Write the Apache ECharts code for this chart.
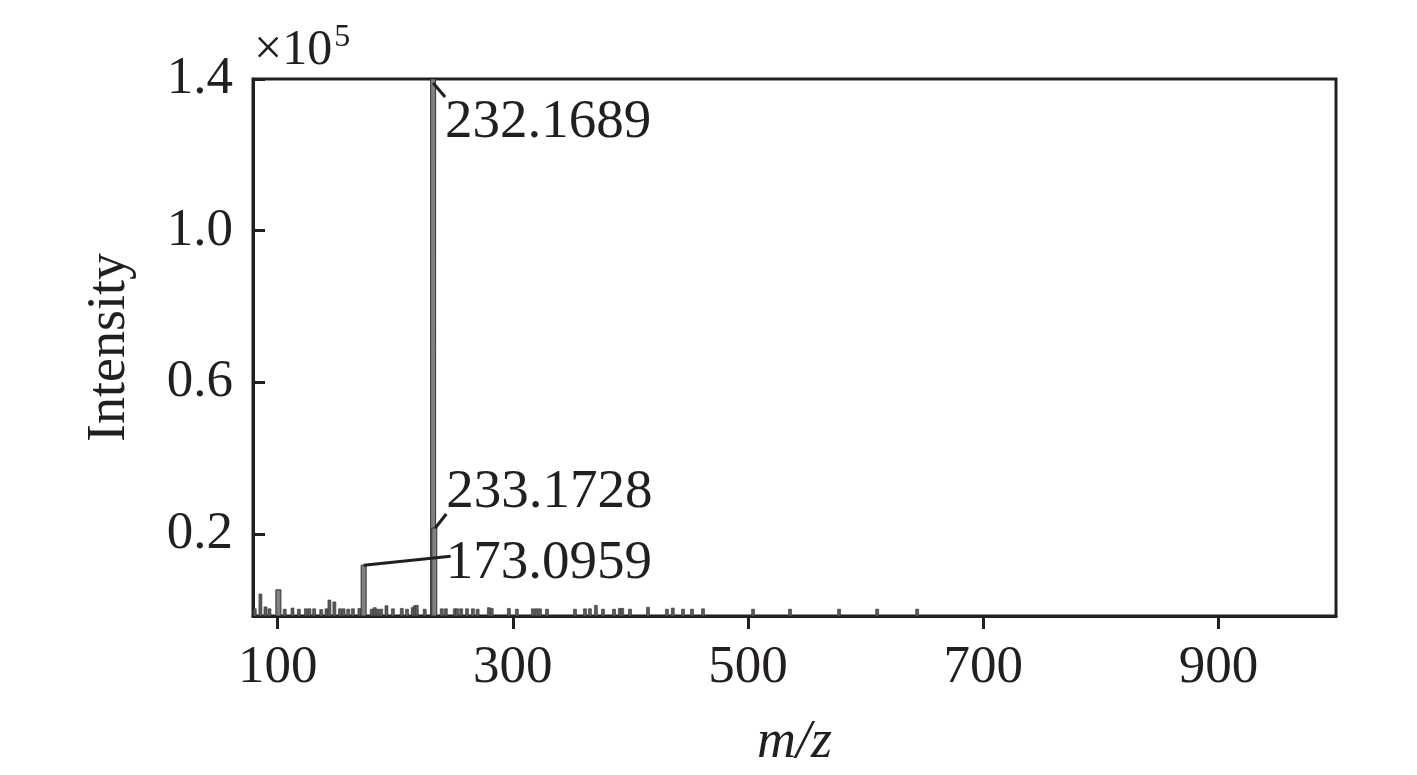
<!DOCTYPE html>
<html><head><meta charset="utf-8">
<script src="https://cdn.jsdelivr.net/npm/echarts@6/dist/echarts.min.js"></script>
<style>html,body{margin:0;padding:0;background:#fff}#c{width:1417px;height:775px}</style>
</head><body><div id="c"></div>
<script>
// ---- data (intensity in units of 1e5) ----
const xTicks = [100, 300, 500, 700, 900];
const yTicks = [0.2, 0.6, 1.0, 1.4];
const peakMz = [80.5, 85.3, 89.6, 93, 100.6, 106, 112.6, 118, 124, 127, 131, 137, 141.5, 144, 148.2, 153, 156, 160, 164, 169.5,
  173.0959, 180, 182.5, 185, 188, 192.5, 198, 205.5, 210, 214.8, 216.5, 218.3, 225, 232.1689, 233.1728,
  239.5, 243, 250.6, 252.5, 256, 261, 266, 270, 279.6, 282, 296.6, 303.4, 317, 320, 323, 329, 352.8, 361.3, 365.5,
  370.6, 376.6, 386, 391, 393, 399.6, 414.9, 431, 436, 444.7, 452.3, 461.7, 504.3, 535.7, 577.4, 609.8, 643.8];
const peakInt = [0.003, 0.042, 0.008, 0.003, 0.053, 0.002, 0.005, 0.002, 0.003, 0.003, 0.003, 0.001, 0.003, 0.026, 0.021, 0.003, 0.003, 0.002, 0.003, 0.004,
  0.118, 0.002, 0.006, 0.002, 0.002, 0.011, 0.003, 0.004, 0.002, 0.006, 0.011, 0.012, 0.002, 1.40, 0.216,
  0.003, 0.003, 0.003, 0.003, 0.003, 0.003, 0.003, 0.002, 0.006, 0.004, 0.004, 0.002, 0.003, 0.003, 0.003, 0.002, 0.002, 0.003, 0.003,
  0.012, 0.002, 0.002, 0.004, 0.004, 0.002, 0.007, 0.002, 0.005, 0.002, 0.002, 0.003, 0.002, 0.002, 0.002, 0.002, 0.002];
const labelMz = [232.1689, 233.1728, 173.0959];
const labelInt = [1.40, 0.216, 0.118];
const labelText = ['232.1689', '233.1728', '173.0959'];

// ---- layout / style (not data) ----
const X_MIN = 79, X_MAX = 1000, Y_MIN = -0.016, Y_MAX = 1.4;
const INK = '#231f20';
const FONT = "'Liberation Serif','Times New Roman',serif";
// leader line points & text anchor, relative to the peak top (px)
const labelLayout = [
  { line: [[0, 4], [12, 18]], text: [12, 44] },
  { line: [[1, 0], [12, -14]], text: [12, -35] },
  { line: [[0, 0], [87, -9]], text: [82, -2] }
];

const chart = echarts.init(document.getElementById('c'), null, { renderer: 'canvas' });
const stems = peakMz.map((m, i) => [m, peakInt[i]]);
const labels = labelMz.map((m, i) => [m, labelInt[i], i]);

chart.setOption({
  animation: false,
  backgroundColor: '#fff',
  grid: { left: 253, right: 81, top: 79, bottom: 158, show: true, borderColor: INK, borderWidth: 3, backgroundColor: 'transparent' },
  xAxis: {
    type: 'value', min: X_MIN, max: X_MAX,
    name: 'm/z', nameLocation: 'middle', nameGap: 100,
    nameTextStyle: { fontFamily: FONT, fontSize: 54, fontStyle: 'italic', color: INK },
    axisLine: { show: true, onZero: false, lineStyle: { color: INK, width: 3 } },
    axisTick: { show: true, inside: false, length: 13, lineStyle: { color: INK, width: 3 }, customValues: xTicks },
    axisLabel: { fontFamily: FONT, fontSize: 53, color: INK, margin: 26, customValues: xTicks },
    splitLine: { show: false }
  },
  yAxis: {
    type: 'value', min: Y_MIN, max: Y_MAX,
    name: 'Intensity', nameLocation: 'middle', nameGap: 116, nameRotate: 90,
    nameTextStyle: { fontFamily: FONT, fontSize: 54, color: INK },
    axisLine: { show: true, onZero: false, lineStyle: { color: INK, width: 3 } },
    axisTick: { show: true, inside: true, length: 12, lineStyle: { color: INK, width: 3 }, customValues: yTicks },
    axisLabel: { fontFamily: FONT, fontSize: 53, color: INK, margin: 20, customValues: yTicks,
      formatter: v => v.toFixed(1) },
    splitLine: { show: false }
  },
  graphic: [{
    type: 'text', left: 254, top: 22,
    style: {
      text: '{a|×10}{b|5}', fill: INK,
      rich: {
        a: { fontFamily: FONT, fontSize: 50, fill: INK, verticalAlign: 'bottom' },
        b: { fontFamily: FONT, fontSize: 32, fill: INK, verticalAlign: 'top', padding: [0, 0, 22, 2] }
      }
    }
  }],
  series: [
    {
      type: 'custom', clip: true, data: stems, z: 2,
      renderItem: (params, api) => {
        const base = api.coord([api.value(0), Y_MIN]);
        const top = api.coord([api.value(0), api.value(1)]);
        const big = api.value(1) > 0.05;
        const w = big ? 5 : 3;
        return {
          type: 'rect',
          shape: { x: base[0] - w / 2, y: top[1], width: w, height: base[1] - top[1] },
          style: { fill: big ? '#808080' : '#5a5a5a', stroke: '#333333', lineWidth: big ? 1 : 0.6 }
        };
      }
    },
    {
      type: 'custom', clip: false, data: labels, z: 3,
      renderItem: (params, api) => {
        const p = api.coord([api.value(0), api.value(1)]);
        const L = labelLayout[api.value(2)];
        return {
          type: 'group',
          children: [
            { type: 'polyline', shape: { points: L.line.map(q => [p[0] + q[0], p[1] + q[1]]) },
              style: { stroke: INK, lineWidth: 3, fill: null } },
            { type: 'text', x: p[0] + L.text[0], y: p[1] + L.text[1],
              style: { text: labelText[api.value(2)], fontFamily: FONT, fontSize: 55, fill: INK,
                align: 'left', verticalAlign: 'middle' } }
          ]
        };
      }
    }
  ]
});
</script></body></html>
